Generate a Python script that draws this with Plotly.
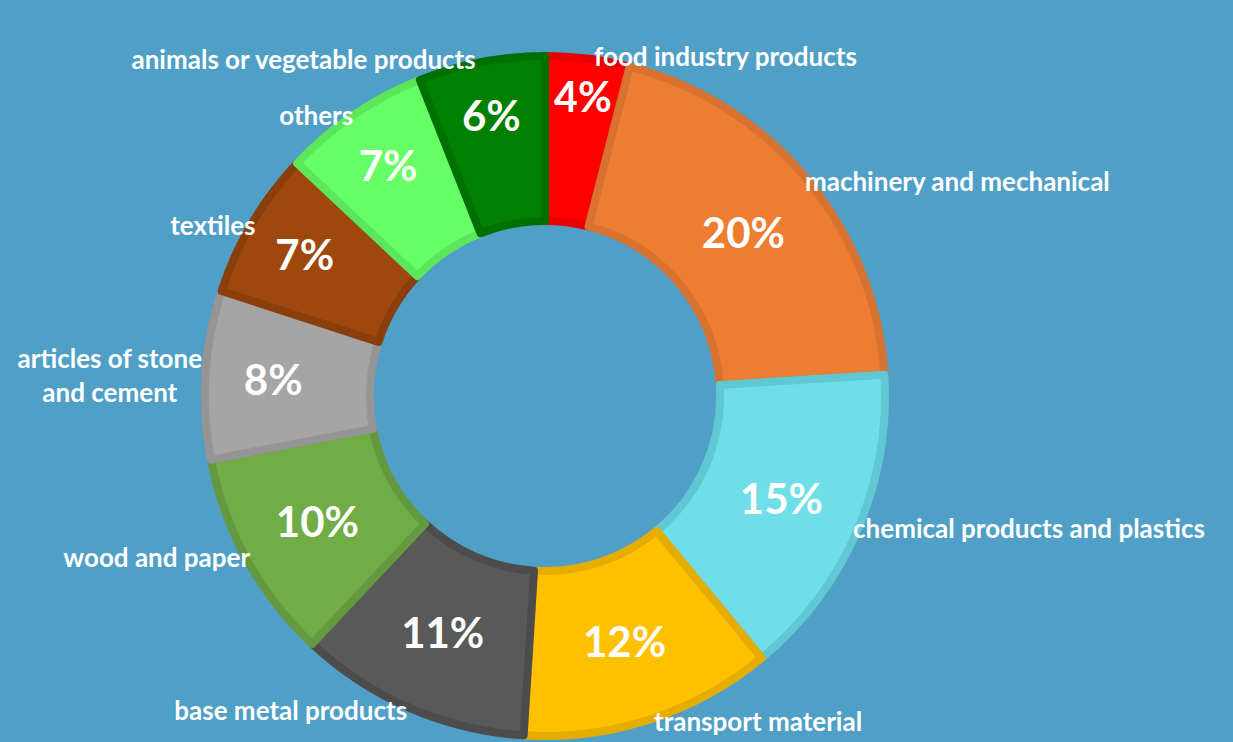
import plotly.graph_objects as go

categories = [
    "food industry products",
    "machinery and mechanical",
    "chemical products and plastics",
    "transport material",
    "base metal products",
    "wood and paper",
    "articles of stone<br>and cement",
    "textiles",
    "others",
    "animals or vegetable products",
]
shares = [4, 20, 15, 12, 11, 10, 8, 7, 7, 6]
fill_colors = ["#FF0000", "#ED7D31", "#6FDEE8", "#FFC000", "#595959",
               "#70AD47", "#A5A5A5", "#9E480E", "#66FF66", "#008000"]
edge_colors = ["#E60000", "#D87230", "#5FC8D3", "#E5AD00", "#4C4C4C",
               "#64993F", "#959595", "#8A3E0C", "#5CE65C", "#007000"]

BG = "#4F9FC6"
W, H = 1233, 742
T, B = 56, 6
plot_h = H - T - B
cx = 0.442
half = 0.285
dom = dict(x=[cx - half, cx + half], y=[0, 1])
shrink = 13  # label ring sits a little inside the outer edge
lab_dom = dict(x=[cx - half + shrink / W, cx + half - shrink / W],
               y=[shrink / plot_h, 1 - shrink / plot_h])

fig = go.Figure()
fig.add_trace(go.Pie(
    values=shares, labels=categories, sort=False, direction="clockwise",
    rotation=0, hole=0.515, domain=dom,
    marker=dict(colors=fill_colors, line=dict(color=edge_colors, width=8)),
    textinfo="percent", textposition="inside", insidetextorientation="horizontal",
    insidetextfont=dict(family="Lato", size=42, color="white", weight=700),
    hoverinfo="label+percent", showlegend=False,
))
fig.add_trace(go.Pie(
    values=shares, labels=categories, sort=False, direction="clockwise",
    rotation=0, hole=0.515, domain=lab_dom,
    marker=dict(colors=["rgba(0,0,0,0)"] * len(shares), line=dict(width=0)),
    textinfo="label", textposition="outside",
    outsidetextfont=dict(family="Lato", size=26, color="white", weight=700),
    hoverinfo="skip", showlegend=False,
))
fig.update_layout(
    width=W, height=H,
    paper_bgcolor=BG, plot_bgcolor=BG,
    margin=dict(l=0, r=0, t=T, b=B, autoexpand=False),
)
fig.write_html("out.html")
